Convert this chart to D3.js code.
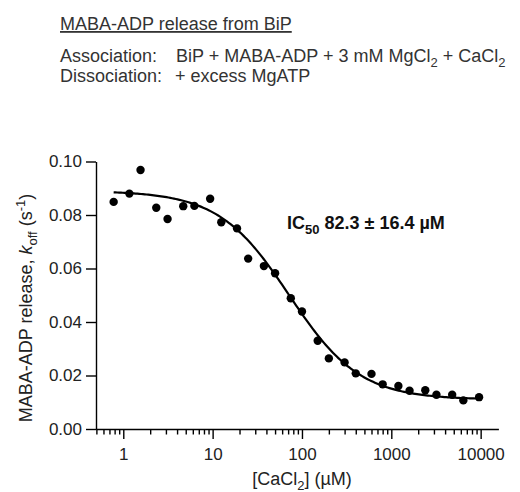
<!DOCTYPE html>
<html lang="en">
<head>
  <meta charset="UTF-8" />
  <title>MABA-ADP release from BiP</title>
  <script src="https://d3js.org/d3.v7.min.js"></script>
  <style>
    body { margin: 0; background: #fff; }
    svg { display: block; font-family: Arial, "Liberation Sans", sans-serif; }
    .axis path, .axis line { stroke: #000; stroke-width: 1.4px; }
    .axis text { font-size: 17px; fill: #222; font-family: Arial, "Liberation Sans", sans-serif; }
    .hdr { font-size: 18px; fill: #333; }
    .fit { fill: none; stroke: #000; stroke-width: 2.2px; }
  </style>
</head>
<body>
  <svg id="chart" width="520" height="492"></svg>
  <script>
    // [CaCl2] in uM and measured k_off (s^-1)
    const conc = [0.78, 1.17, 1.56, 2.34, 3.13, 4.69, 6.25, 9.38, 12.5, 18.75, 25, 37.5, 50, 75,
                  100, 150, 200, 300, 400, 600, 800, 1200, 1600, 2400, 3200, 4800, 6400, 9600];
    const koff = [0.0849, 0.0880, 0.0968, 0.0827, 0.0785, 0.0833, 0.0834, 0.0861, 0.0773, 0.0750,
                  0.0637, 0.0609, 0.0582, 0.0489, 0.0439, 0.0330, 0.0264, 0.0249, 0.0208, 0.0206,
                  0.0167, 0.0161, 0.0143, 0.0145, 0.0128, 0.0128, 0.0107, 0.0119];

    // dose-response curve as drawn
    const fitTop = 0.089, fitBottom = 0.011, fitMid = 72, hill = 1.1;

    const xMajor = [1, 10, 100, 1000, 10000];
    const yTicks = [0, 0.02, 0.04, 0.06, 0.08, 0.10];

    const svg = d3.select("#chart");

    const x = d3.scaleLog().domain([0.495, 15800]).range([96, 498.4]);
    const y = d3.scaleLinear().domain([0, 0.1]).range([429, 161.5]);

    // header text
    svg.append("text").attr("class", "hdr").attr("x", 60).attr("y", 30)
      .style("text-decoration", "underline").text("MABA-ADP release from BiP");

    svg.append("text").attr("class", "hdr").attr("x", 60).attr("y", 62).text("Association:");
    const assoc = svg.append("text").attr("class", "hdr").attr("x", 176).attr("y", 62);
    assoc.append("tspan").text("BiP + MABA-ADP + 3 mM MgCl");
    assoc.append("tspan").attr("dy", 5).style("font-size", "13px").text("2");
    assoc.append("tspan").attr("dy", -5).text(" + CaCl");
    assoc.append("tspan").attr("dy", 5).style("font-size", "13px").text("2");

    svg.append("text").attr("class", "hdr").attr("x", 60).attr("y", 81.5).text("Dissociation:");
    svg.append("text").attr("class", "hdr").attr("x", 175).attr("y", 81.5).text("+ excess MgATP");

    // minor x ticks
    const minor = [];
    [0.1, 1, 10, 100, 1000].forEach(d => {
      for (let m = 2; m <= 9; m++) {
        const v = d * m;
        if (v > x.domain()[0] && v < 10000) minor.push(v);
      }
    });

    svg.append("g").attr("class", "axis").attr("transform", "translate(0,429)")
      .call(d3.axisBottom(x).tickValues(minor).tickSize(5.5).tickSizeOuter(0).tickFormat(""))
      .select(".domain").remove();

    svg.append("g").attr("class", "axis").attr("transform", "translate(0,429)")
      .call(d3.axisBottom(x).tickValues(xMajor).tickSize(10).tickSizeOuter(0)
        .tickFormat(d3.format("d")).tickPadding(9));

    svg.append("g").attr("class", "axis").attr("transform", "translate(96,0)")
      .call(d3.axisLeft(y).tickValues(yTicks).tickSize(10).tickSizeOuter(0)
        .tickFormat(d3.format(".2f")).tickPadding(4));

    // axis titles
    const xt = svg.append("text").attr("x", 302).attr("y", 485)
      .attr("text-anchor", "middle").style("font-size", "18px").attr("fill", "#222");
    xt.append("tspan").text("[CaCl");
    xt.append("tspan").attr("dy", 5).style("font-size", "13px").text("2");
    xt.append("tspan").attr("dy", -5).text("] (\u00b5M)");

    const yt = svg.append("text").attr("transform", "translate(32,308) rotate(-90)")
      .attr("text-anchor", "middle").style("font-size", "18px").attr("fill", "#222");
    yt.append("tspan").text("MABA-ADP release, ");
    yt.append("tspan").style("font-style", "italic").text("k");
    yt.append("tspan").attr("dy", 5).style("font-size", "13px").text("off");
    yt.append("tspan").attr("dy", -5).text(" (s");
    yt.append("tspan").attr("dy", -7).style("font-size", "13px").text("-1");
    yt.append("tspan").attr("dy", 7).text(")");

    // fitted curve over the data range
    const lo = Math.log10(conc[0]), hi = Math.log10(conc[conc.length - 1]);
    const xs = d3.range(0, 201).map(i => Math.pow(10, lo + (hi - lo) * i / 200));
    const model = c => fitBottom + (fitTop - fitBottom) / (1 + Math.pow(c / fitMid, hill));
    svg.append("path").attr("class", "fit")
      .attr("d", d3.line().x(d => x(d)).y(d => y(model(d)))(xs));

    // data points
    svg.append("g").selectAll("circle")
      .data(conc.map((c, i) => [c, koff[i]]))
      .join("circle")
      .attr("cx", d => x(d[0]))
      .attr("cy", d => y(d[1]))
      .attr("r", 4.2)
      .attr("fill", "#000");

    // IC50 label
    const lab = svg.append("text").attr("x", 287).attr("y", 229)
      .style("font-size", "18px").style("font-weight", "bold").attr("fill", "#111");
    lab.append("tspan").text("IC");
    lab.append("tspan").attr("dy", 5).style("font-size", "13px").text("50");
    lab.append("tspan").attr("dy", -5).text(" 82.3 \u00b1 16.4 \u00b5M");
  </script>
</body>
</html>
